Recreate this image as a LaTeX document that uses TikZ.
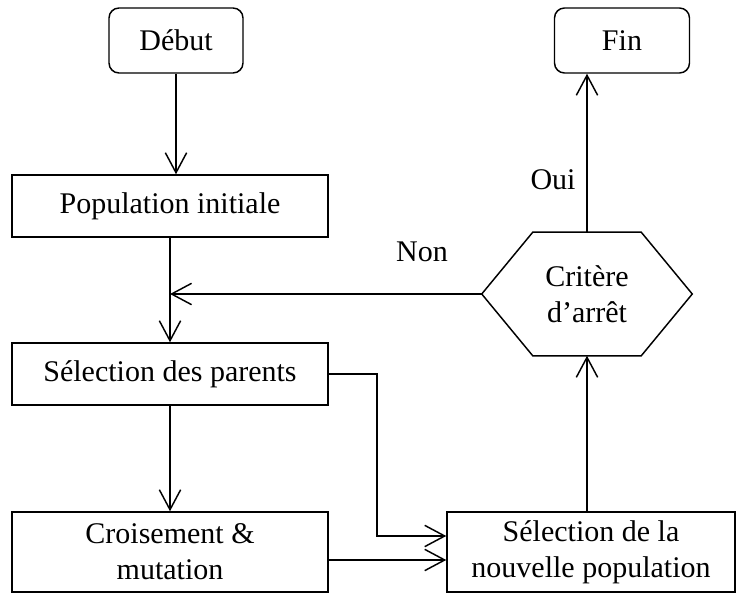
\documentclass[tikz,border=0pt]{standalone}
\usepackage{fontspec}
\setmainfont{Liberation Serif}
\usetikzlibrary{arrows.meta}

\tikzset{
  box/.style={draw, line width=1.1pt, inner sep=0.75pt, align=center, font=\fontsize{22.5}{27}\selectfont},
  startend/.style={box, rounded corners=7.5pt},
  arr/.style={line width=1.1pt, -{Straight Barb[length=15pt,width=16pt,line width=1.1pt]}},
  lbl/.style={inner sep=0.75pt, font=\fontsize{22.5}{27}\selectfont}
}

\begin{document}
\begin{tikzpicture}[x=0.75pt,y=0.75pt,yscale=-1,xscale=1]
\useasboundingbox (0,0) rectangle (751,610);

\node [startend, minimum width=100.5pt, minimum height=48.75pt] (debut) at (176,40.5) {Début};
\node [box, minimum width=237pt, minimum height=46.5pt] (popinit) at (170,206) {Population initiale};
\node [box, minimum width=237pt, minimum height=46.5pt] (selparents) at (170,374) {Sélection des parents};
\node [box, minimum width=237pt, minimum height=60pt] (croisement) at (170,552) {Croisement \&\\mutation};
\node [box, minimum width=216pt, minimum height=60pt] (selnouv) at (591,552) {Sélection de la\\nouvelle population};
\node [startend, minimum width=101.25pt, minimum height=48.75pt] (fin) at (622,40.5) {Fin};
\node [inner sep=0pt, align=center, font=\fontsize{22.5}{27}\selectfont, minimum width=157.5pt, minimum height=92.25pt] (critere) at (587,294) {Critère\\d’arrêt};
\draw [line width=1.1pt] (critere.west) -- ([xshift=38.25pt]critere.north west) -- ([xshift=-38.25pt]critere.north east) -- (critere.east) -- ([xshift=-38.25pt]critere.south east) -- ([xshift=38.25pt]critere.south west) -- cycle ;

\coordinate (bend) at (377,536);
\coordinate (inlow) at (447,560);

\draw [arr] (debut.south) -- (debut.south |- popinit.north) ;
\draw [arr] (popinit.south) -- (selparents.north) ;
\draw [arr] (critere.west) -- (critere.west -| popinit.south) ;
\draw [arr] (selparents.south) -- (croisement.north) ;
\draw [arr] (selparents.east) -| (bend) -- (bend -| selnouv.west) ;
\draw [arr] (croisement.east |- inlow) -- (inlow -| selnouv.west) ;
\draw [arr] (critere.south |- selnouv.north) -- (critere.south) ;
\draw [arr] (critere.north) -- (critere.north |- fin.south) ;

\node [lbl] (non) at (422,252) {Non};
\node [lbl] (oui) at (553,180) {Oui};

\end{tikzpicture}
\end{document}
